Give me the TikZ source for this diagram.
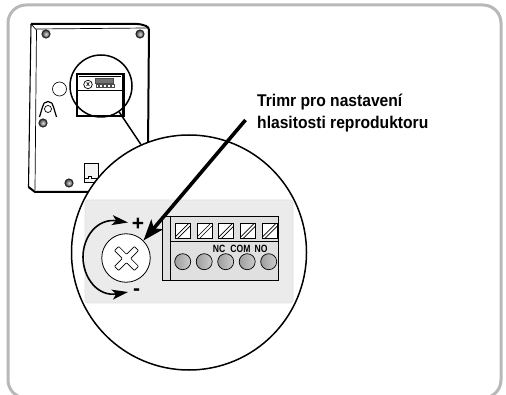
\documentclass[tikz,border=0pt]{standalone}
\usepackage{fontspec}
\setmainfont{Liberation Sans}
\newfontfamily\captionfont[FakeStretch=0.92]{Liberation Sans}
\newfontfamily\termfont[FakeStretch=0.82]{Liberation Sans}
\usetikzlibrary{positioning}
\usetikzlibrary{arrows.meta}
\tikzset{
    frame/.style={draw=black!28,line width=3pt,rounded corners=18pt},
    screwhole/.style={circle,draw=black!85,line width=1.1pt,inner color=black!15,outer color=black!75,minimum size=8pt,inner sep=0pt},
    minibox/.style={draw=black!70,line width=0.4pt,fill=white,inner sep=0pt,minimum width=2.6pt,minimum height=3pt},
    termbox/.style={draw=black,line width=1pt,fill=white,minimum width=15pt,minimum height=15pt,inner sep=0pt,
        path picture={
            \draw[line width=0.7pt] ([xshift=-1.5pt]path picture bounding box.south west) -- ([xshift=-1.5pt]path picture bounding box.north east);
            \draw[line width=0.7pt] ([xshift=2.5pt]path picture bounding box.south west) -- ([xshift=2.5pt]path picture bounding box.north east);
        }},
    termhole/.style={circle,draw=black,line width=0.7pt,left color=black!38,right color=black!20,minimum size=16pt,inner sep=0pt},
    termtext/.style={font=\termfont\bfseries\fontsize{10.5}{10.5}\selectfont,inner sep=0pt},
    callout/.style={line width=3.6pt,-{Stealth[length=21pt,width=15pt,inset=5pt]}},
    turn/.style={line width=1.6pt,{Stealth[length=16pt,width=10pt,inset=4pt]}-{Stealth[length=16pt,width=10pt,inset=4pt]}},
}
\begin{document}
\begin{tikzpicture}[x=1pt,y=-1pt]
    \useasboundingbox (0,0) rectangle (506,395);
    \begin{scope}
    \clip (0,0) rectangle (506,395);
    \draw[frame] (8,5) rectangle (501,398);
    \end{scope}

    % device
    \draw[line width=2pt,rounded corners=3pt] (31,24) -- (140,24) -- (149,27) -- (148,150);
    \draw[line width=1.1pt] (31,24) -- (28.5,187);
    \draw[line width=2pt] (28.5,187) -- (35,192) -- (100,192);
    \draw[line width=0.7pt] (31,24) -- (36.5,30) -- (35,190);
    \draw[line width=0.7pt] (36.5,29) -- (147,28);
    \node[screwhole] (S1) at (46,34) {};
    \node[screwhole] (S2) at (140,34) {};
    \node[screwhole] (S3) at (43,123) {};
    \node[screwhole] (S4) at (69,183) {};
    \node[circle,draw,line width=0.6pt,minimum size=14pt,inner sep=0pt] (hole) at (59.5,89) {};
    \node[circle,draw,line width=0.7pt,minimum size=7pt,inner sep=0pt] (key) at (48,109) {};
    \draw[line width=1.2pt] (39.5,117) -- (42.5,107) arc (180:360:5.5) -- (56.5,117);
    \draw[line width=0.7pt,fill=black!4] (84,163) rectangle (98,182);
    \draw[line width=1pt] (84,179) -- (88,179) -- (88,176.5) -- (91,176.5) -- (91,179) -- (98,179);
    \draw[line width=1pt] (98,163) -- (98,182);

    % panel seen through the lens
    \draw[line width=1.1pt] (77,74) rectangle (124,116);
    \draw[line width=0.8pt] (77,90) -- (124,90);
    \draw[line width=1.6pt] (122.5,75) -- (122.5,116);
    \draw[line width=0.6pt] (79,76) -- (121,76);
    \node[circle,draw,fill=white,line width=0.7pt,minimum size=8.5pt,inner sep=0pt] (miniTrim) at (88,84.5) {\fontsize{7}{7}\selectfont\bfseries x};
    \node[draw=black!70,fill=black!55,line width=0.3pt,minimum width=18.6pt,minimum height=4.8pt,inner sep=0pt] (miniBlock) at (104,80.5) {};
    \node[minibox] (m1) at (97,85.5) {};
    \node[minibox,right=0.9pt of m1] (m2) {};
    \node[minibox,right=0.9pt of m2] (m3) {};
    \node[minibox,right=0.9pt of m3] (m4) {};
    \node[minibox,right=0.9pt of m4] (m5) {};

    % lens and zoomed view
    \node[circle,draw,line width=1.5pt,minimum size=62pt,inner sep=0pt] (lens) at (101,86) {};
    \node[circle,draw,fill=white,line width=1.5pt,minimum size=235pt,inner sep=0pt] (zoomview) at (189,252.5) {};
    \draw[line width=1.5pt] (lens.-55) -- (zoomview.114.5);
    \node[draw=black!12,line width=0.7pt,fill=black!8,rounded corners=3pt,minimum width=208pt,minimum height=103pt,inner sep=0pt] (band) at (189,251.5) {};

    % terminal block
    \node[draw,line width=1pt,fill=black!12,minimum width=116pt,minimum height=64pt,inner sep=0pt] (block) at (220,249) {};
    \draw[line width=1pt] (170,217) -- (170,281);
    \draw[line width=1pt] (170,242) -- (278,242);
    \node[termbox] (B1) at (182.7,231) {};
    \node[termbox,right=5.8pt of B1] (B2) {};
    \node[termbox,right=5.8pt of B2] (B3) {};
    \node[termbox,right=5.8pt of B3] (B4) {};
    \node[termbox,right=5.8pt of B4] (B5) {};
    \node[termhole] (H1) at (182.7,261.7) {};
    \node[termhole,right=4.8pt of H1] (H2) {};
    \node[termhole,right=4.8pt of H2] (H3) {};
    \node[termhole,right=4.8pt of H3] (H4) {};
    \node[termhole,right=4.8pt of H4] (H5) {};
    \node[termtext] (NC) at (219,249) {NC};
    \node[termtext] (COM) at (240.5,249) {COM};
    \node[termtext] (NO) at (261,249) {NO};

    % trimmer
    \node[circle,draw,fill=white,line width=0.8pt,minimum size=48.5pt,inner sep=0pt] (trim) at (126,258) {};
    \draw[line width=0.7pt,rounded corners=0.6pt,shift={(126.5,258.5)},rotate=45]
        (-3,-14) -- (3,-14) -- (3,-3) -- (14,-3) -- (14,3) -- (3,3) -- (3,14) -- (-3,14) -- (-3,3) -- (-14,3) -- (-14,-3) -- (-3,-3) -- cycle;

    \node[font=\bfseries\fontsize{21}{21}\selectfont,inner sep=0pt] (plus) at (138,224.5) {+};
    \node[font=\bfseries\fontsize{21}{21}\selectfont,inner sep=0pt] (minus) at (136.5,292.5) {-};
    \coordinate (arcTop) at (128,222.5);
    \coordinate (arcBot) at (128,292);
    \draw[turn] (arcTop) .. controls (98,218) and (83,236) .. (83,257) .. controls (83,278) and (98,297) .. (arcBot);

    % caption
    \node[align=left,anchor=north west,font=\captionfont\bfseries\fontsize{17}{22}\selectfont,inner sep=0pt] (note) at (257,94) {Trimr pro nastavení\\hlasitosti reproduktoru};
    \coordinate (noteEnd) at (245.5,120);
    \draw[callout] (noteEnd) -- (trim.45);
\end{tikzpicture}
\end{document}
